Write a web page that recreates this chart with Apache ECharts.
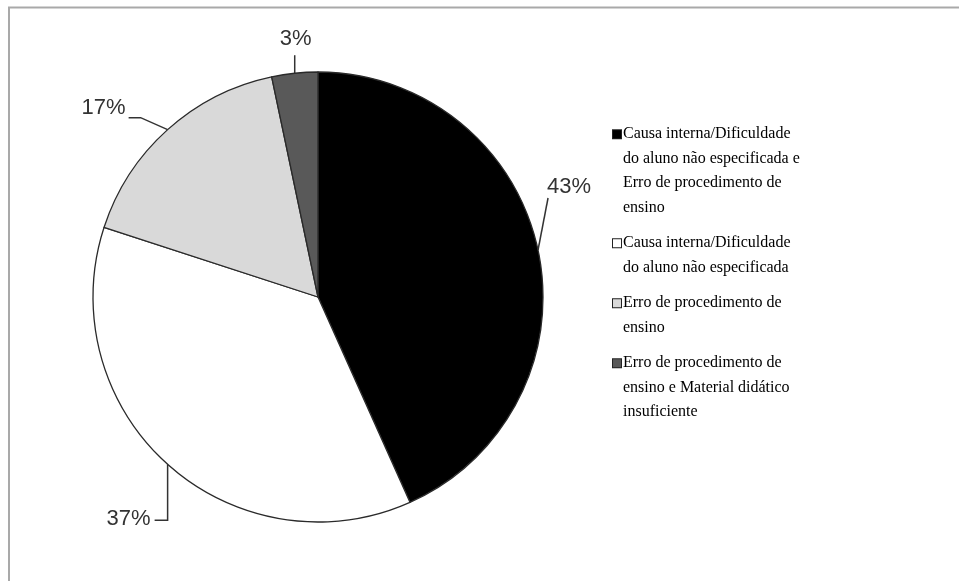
<!DOCTYPE html>
<html>
<head>
<meta charset="utf-8">
<script src="https://cdn.jsdelivr.net/npm/echarts@6/dist/echarts.min.js"></script>
<style>
html,body{margin:0;padding:0;background:#fff;}
#chart{width:959px;height:581px;}
</style>
</head>
<body>
<div id="chart"></div>
<script>
// Categories (full names) and their share in percent
const categories = [
  'Causa interna/Dificuldade do aluno não especificada e Erro de procedimento de ensino',
  'Causa interna/Dificuldade do aluno não especificada',
  'Erro de procedimento de ensino',
  'Erro de procedimento de ensino e Material didático insuficiente'
];
const percentages = [43.3, 36.7, 16.7, 3.3];
// Legend text as wrapped in the original
const legendLines = [
  ['Causa interna/Dificuldade', 'do aluno não especificada e', 'Erro de procedimento de', 'ensino'],
  ['Causa interna/Dificuldade', 'do aluno não especificada'],
  ['Erro de procedimento de', 'ensino'],
  ['Erro de procedimento de', 'ensino e Material didático', 'insuficiente']
];
const sliceColors = ['#000000', '#ffffff', '#d9d9d9', '#595959'];

const chart = echarts.init(document.getElementById('chart'), null, {renderer: 'canvas'});

const rich = {
  ind: {width: 8, height: 8, borderColor: 'rgba(0,0,0,0)', borderWidth: 1},
  sp: {width: 2, height: 8},
  t: {fontFamily: 'Liberation Serif', fontSize: 16, lineHeight: 24.5, color: '#000'}
};
sliceColors.forEach(function (c, i) {
  rich['s' + i] = {width: 8, height: 8, backgroundColor: c, borderColor: '#222', borderWidth: 1};
});

const option = {
  backgroundColor: '#ffffff',
  animation: false,
  graphic: [{
    type: 'rect',
    shape: {x: 9, y: 7.5, width: 1200, height: 1200},
    style: {fill: 'none', stroke: '#a9a9a9', lineWidth: 2},
    silent: true
  }],
  legend: {
    orient: 'vertical',
    left: 602,
    top: 117,
    itemWidth: 0,
    itemHeight: 0,
    itemGap: 11,
    icon: 'rect',
    selectedMode: false,
    data: categories,
    formatter: function (name) {
      const i = categories.indexOf(name);
      return legendLines[i].map(function (l, j) {
        return (j === 0 ? '{s' + i + '|}' : '{ind|}') + '{sp|}{t|' + l + '}';
      }).join('\n');
    },
    textStyle: {rich: rich, lineHeight: 24.5}
  },
  series: [{
    type: 'pie',
    center: [318, 297],
    radius: 225,
    startAngle: 90,
    clockwise: true,
    avoidLabelOverlap: false,
    data: categories.map(function (c, i) {
      return {name: c, value: percentages[i], itemStyle: {color: sliceColors[i]}};
    }),
    itemStyle: {borderColor: '#2a2a2a', borderWidth: 1.3},
    emphasis: {disabled: true},
    label: {
      show: true,
      position: 'outside',
      formatter: function (p) { return Math.round(p.value) + '%'; },
      fontFamily: 'Liberation Sans',
      fontSize: 22,
      color: '#333'
    },
    labelLine: {show: true, length: 20, length2: 10, lineStyle: {color: '#333', width: 1.5}},
    labelLayout: function (p) {
      const pts = p.labelLinePoints;
      if (!pts) return {};
      const a = pts[0];
      const ax = a[0], ay = a[1];
      switch (p.dataIndex) {
        case 0:
          return {x: ax + 9, y: ay - 63, align: 'left', verticalAlign: 'middle',
            labelLinePoints: [[ax, ay], [ax + 10, ay - 52], [ax + 10, ay - 52]]};
        case 1:
          return {x: ax - 17, y: ay + 55, align: 'right', verticalAlign: 'middle',
            labelLinePoints: [[ax, ay], [ax, ay + 56], [ax - 13, ay + 56]]};
        case 2:
          return {x: ax - 42, y: ay - 22, align: 'right', verticalAlign: 'middle',
            labelLinePoints: [[ax, ay], [ax - 27, ay - 12], [ax - 39, ay - 12]]};
        case 3:
          return {x: ax + 1, y: ay - 34, align: 'center', verticalAlign: 'middle',
            labelLinePoints: [[ax, ay], [ax, ay - 18], [ax, ay - 18]]};
      }
      return {};
    }
  }]
};
chart.setOption(option);
</script>
</body>
</html>
